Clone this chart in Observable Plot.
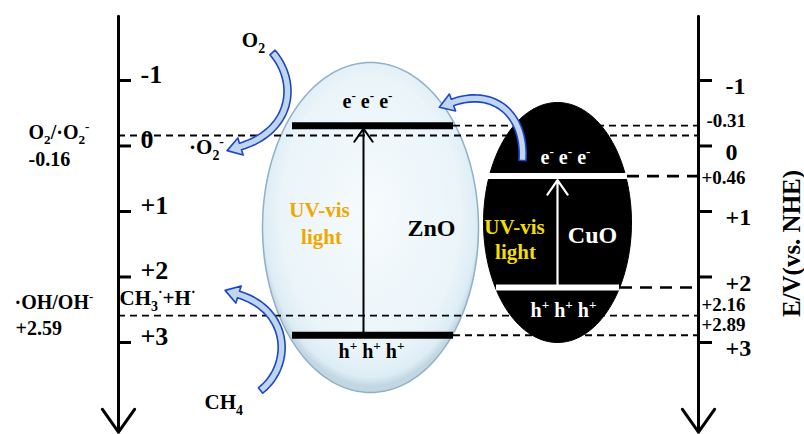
<!DOCTYPE html>
<html>
<head>
<meta charset="utf-8">
<script src="https://cdn.jsdelivr.net/npm/d3@7"></script>
<script src="https://cdn.jsdelivr.net/npm/@observablehq/plot@0.6"></script>
<style>
  html, body { margin: 0; padding: 0; background: #fff; }
  #chart svg { display: block; }
</style>
</head>
<body>
<div id="chart"></div>
<script>
// ---- potential scale (V vs. NHE) ----
const tickValues = [-1, 0, 1, 2, 3];
const tickLabels = ["-1", "0", "+1", "+2", "+3"];

// ---- band edges of the two semiconductors ----
const semiconductors = ["ZnO", "CuO"];
const conductionBand = [-0.31, 0.46];
const valenceBand = [2.89, 2.16];

// ---- redox couples ----
const redoxCouples = ["O_2/·O_2^-", "·OH/OH^-"];
const redoxPotentials = [-0.16, 2.59];

// ---- species taking part in the reactions ----
const species = ["O_2", "·O_2^-", "CH_3^·+H^·", "CH_4"];

const fmt = v => (v > 0 ? "+" : "") + v.toFixed(2);

// ---- drawing frame ----
const W = 804, H = 434;
const yDomain = [-2.221, 4.405];
const pxToV = d3.scaleLinear([0, H], yDomain);
const serif = "'Liberation Serif', 'Times New Roman', serif";
const axisX = [118, 698];
const axisTop = -1.98, axisEnd = 4.37;

// ellipse outlines (pixel layout)
function ellipse(cx, cy, rx, ry) {
  return d3.range(0, 361, 2).map(a => {
    const t = a * Math.PI / 180;
    return {x: cx + rx * Math.cos(t), y: pxToV(cy + ry * Math.sin(t))};
  });
}
const znoOutline = ellipse(370, 227, 108, 165);
const cuoOutline = ellipse(557, 222, 74, 120);

// curved block arrow along a cubic Bézier (pixel layout)
function blockArrow(p0, p1, p2, p3, body = 7, head = 9, headLen = 14) {
  const bez = t => {
    const u = 1 - t;
    return [0, 1].map(k => u*u*u*p0[k] + 3*u*u*t*p1[k] + 3*u*t*t*p2[k] + t*t*t*p3[k]);
  };
  const der = t => {
    const u = 1 - t;
    return [0, 1].map(k => 3*u*u*(p1[k]-p0[k]) + 6*u*t*(p2[k]-p1[k]) + 3*t*t*(p3[k]-p2[k]));
  };
  const left = [], right = [];
  for (let i = 0; i <= 40; i++) {
    const t = i / 40, [x, y] = bez(t), [dx, dy] = der(t), l = Math.hypot(dx, dy);
    const nx = -dy / l, ny = dx / l;
    left.push([x + nx * body / 2, y + ny * body / 2]);
    right.push([x - nx * body / 2, y - ny * body / 2]);
  }
  const [dx, dy] = der(1), l = Math.hypot(dx, dy), tx = dx / l, ty = dy / l, nx = -ty, ny = tx;
  const [ex, ey] = p3;
  const pts = [...left, [ex + nx * head, ey + ny * head], [ex + tx * headLen, ey + ty * headLen],
               [ex - nx * head, ey - ny * head], ...right.reverse(), left[0]];
  return pts.map(([x, y]) => ({x, y: pxToV(y)}));
}
const arrowO2 = blockArrow([272, 52], [298, 82], [292, 130], [240, 146]);
const arrowCH4 = blockArrow([260, 390], [292, 365], [290, 310], [238, 294]);
const arrowTransfer = blockArrow([522, 160], [525, 110], [490, 88], [452, 102]);

// dashed reference levels: short dashes and long dashes
const shortDashed = [
  {v: redoxPotentials[0], x1: axisX[0], x2: axisX[1]},
  {v: redoxPotentials[1], x1: axisX[0], x2: axisX[1]},
  {v: conductionBand[0], x1: 453, x2: axisX[1]},
  {v: valenceBand[0], x1: 453, x2: axisX[1]}
];
const longDashed = [
  {v: conductionBand[1], x1: 627, x2: axisX[1]},
  {v: valenceBand[1], x1: 620, x2: axisX[1]}
];

function txt(str, x, v, o = {}) {
  return Plot.text([str], {
    x: () => x, y: () => v, text: d => d,
    fontFamily: serif, fontWeight: "bold", fontSize: 20, fill: "#000",
    textAnchor: "middle", ...o
  });
}

const arrowStyle = {x: "x", y: "y", fill: "#bfd6ec", stroke: "#1e46c8", strokeWidth: 1.6,
                    strokeLinejoin: "round", curve: "linear"};

const chart = Plot.plot({
  width: W, height: H, margin: 0,
  x: {type: "linear", domain: [0, W], range: [0, W], axis: null},
  y: {type: "linear", domain: yDomain, range: [0, H], axis: null},
  style: {fontFamily: serif, background: "#fff", overflow: "visible"},
  marks: [
    // ZnO particle
    Plot.line(znoOutline, {x: "x", y: "y", fill: "url(#znoFill)", stroke: "#8fb0c6", strokeWidth: 1.5, curve: "linear"}),

    // dashed potential levels
    Plot.ruleY(shortDashed, {y: "v", x1: "x1", x2: "x2", stroke: "#000", strokeWidth: 1.8, strokeDasharray: "7,5"}),
    Plot.ruleY(longDashed, {y: "v", x1: "x1", x2: "x2", stroke: "#000", strokeWidth: 2.6, strokeDasharray: "12,8"}),

    // ZnO excitation arrow and band edges
    Plot.arrow([0], {x1: () => 363, x2: () => 363, y1: () => valenceBand[0], y2: () => conductionBand[0],
      stroke: "#000", strokeWidth: 2, headLength: 12, headAngle: 70, insetEnd: 3}),
    Plot.ruleY([conductionBand[0], valenceBand[0]], {y: d => d, x1: () => 292, x2: () => 453, stroke: "#000", strokeWidth: 7}),

    // CuO particle
    Plot.line(cuoOutline, {x: "x", y: "y", fill: "#000", stroke: "#000", strokeWidth: 1, curve: "linear"}),
    Plot.arrow([0], {x1: () => 557, x2: () => 557, y1: () => valenceBand[1], y2: () => conductionBand[1],
      stroke: "#fff", strokeWidth: 2.2, headLength: 12, headAngle: 70, insetEnd: 4}),
    Plot.ruleY([conductionBand[1]], {y: d => d, x1: () => 488, x2: () => 627, stroke: "#fff", strokeWidth: 6}),
    Plot.ruleY([valenceBand[1]], {y: d => d, x1: () => 496, x2: () => 619, stroke: "#fff", strokeWidth: 6}),

    // potential axes
    Plot.arrow(axisX, {x1: d => d, x2: d => d, y1: () => axisTop, y2: () => axisEnd,
      stroke: "#000", strokeWidth: 3, headLength: 14, headAngle: 70}),
    Plot.ruleY(tickValues, {y: d => d, x1: () => axisX[0], x2: () => axisX[0] + 13, stroke: "#000", strokeWidth: 3}),
    Plot.ruleY(tickValues, {y: d => d, x1: () => axisX[1], x2: () => axisX[1] + 14, stroke: "#000", strokeWidth: 3}),
    Plot.text(tickValues, {x: () => 140, y: d => d, text: (d, i) => tickLabels[i], textAnchor: "start",
      fontFamily: serif, fontWeight: "bold", fontSize: 26, dy: -6}),
    Plot.text(tickValues, {x: () => 725, y: d => d, text: (d, i) => tickLabels[i], textAnchor: "start",
      fontFamily: serif, fontWeight: "bold", fontSize: 24, dy: 6}),
    Plot.text(["E/V(vs. NHE)"], {x: () => 791, y: () => pxToV(243), text: d => d, rotate: -90,
      fontFamily: serif, fontWeight: "bold", fontSize: 25}),

    // band-edge values on the right axis
    txt(fmt(conductionBand[0]), 706, conductionBand[0], {textAnchor: "start", fontSize: 19, dy: -5}),
    txt(fmt(conductionBand[1]), 701, conductionBand[1], {textAnchor: "start", fontSize: 19, dy: 2}),
    txt(fmt(valenceBand[1]), 701, valenceBand[1], {textAnchor: "start", fontSize: 19, dy: 17}),
    txt(fmt(valenceBand[0]), 701, valenceBand[0], {textAnchor: "start", fontSize: 19, dy: -10}),

    // redox couples on the left
    txt(redoxCouples[0], 28, redoxPotentials[0], {textAnchor: "start", dy: -3}),
    txt(fmt(redoxPotentials[0]), 28, redoxPotentials[0], {textAnchor: "start", dy: 24}),
    txt(redoxCouples[1], 14, redoxPotentials[1], {textAnchor: "start", dy: -13}),
    txt(fmt(redoxPotentials[1]), 15, redoxPotentials[1], {textAnchor: "start", dy: 13}),

    // species
    txt(species[0], 253, pxToV(40), {fontSize: 21}),
    txt(species[1], 206, pxToV(147), {fontSize: 21}),
    txt(species[2], 119, pxToV(298), {fontSize: 21, textAnchor: "start"}),
    txt(species[3], 204, pxToV(402), {fontSize: 21, textAnchor: "start"}),

    // ZnO labels
    txt("e^- e^- e^-", 367, pxToV(101), {fontSize: 20}),
    txt("h^+ h^+ h^+", 371, pxToV(351), {fontSize: 20}),
    txt("UV-vis", 319, pxToV(210), {fontSize: 21, fill: "#f0a800"}),
    txt("light", 321, pxToV(237), {fontSize: 21, fill: "#f0a800"}),
    txt(semiconductors[0], 431, pxToV(228), {fontSize: 24}),

    // CuO labels
    txt("e^- e^- e^-", 565, pxToV(157), {fontSize: 20, fill: "#fff"}),
    txt("h^+ h^+ h^+", 563, pxToV(310), {fontSize: 20, fill: "#fff"}),
    txt("UV-vis", 514, pxToV(227), {fontSize: 21, fill: "#f2de00"}),
    txt("light", 515, pxToV(252), {fontSize: 21, fill: "#f2de00"}),
    txt(semiconductors[1], 592, pxToV(235), {fontSize: 24, fill: "#fff"}),

    // reaction / transfer arrows
    Plot.line(arrowO2, arrowStyle),
    Plot.line(arrowCH4, arrowStyle),
    Plot.line(arrowTransfer, arrowStyle)
  ]
});

// radial shading for the ZnO particle
const svgNS = "http://www.w3.org/2000/svg";
const defs = document.createElementNS(svgNS, "defs");
defs.innerHTML = `<radialGradient id="znoFill" cx="50%" cy="46%" r="52%">
  <stop offset="0%" stop-color="#f6fbfd"/>
  <stop offset="80%" stop-color="#eaf4f9"/>
  <stop offset="95%" stop-color="#ddedf5"/>
  <stop offset="100%" stop-color="#c3d7e3"/>
</radialGradient>`;
chart.insertBefore(defs, chart.firstChild);

document.getElementById("chart").appendChild(chart);

// sub- and superscripts: "_x" lowers and "^x" raises the next character
chart.querySelectorAll("text").forEach(el => {
  const s = el.textContent;
  if (!/[_^]/.test(s)) return;
  const F = parseFloat(getComputedStyle(el).fontSize) || 20;
  const segs = [];
  for (let i = 0; i < s.length; i++) {
    let k = "n", c = s[i];
    if ((c === "_" || c === "^") && i + 1 < s.length) { k = c === "_" ? "sub" : "sup"; c = s[++i]; }
    if (segs.length && segs[segs.length - 1].k === k) segs[segs.length - 1].t += c;
    else segs.push({k, t: c});
  }
  el.textContent = "";
  let shift = 0;
  for (const sg of segs) {
    const target = sg.k === "sub" ? 0.28 * F : sg.k === "sup" ? -0.38 * F : 0;
    const ts = document.createElementNS(svgNS, "tspan");
    ts.setAttribute("dy", target - shift);
    if (sg.k !== "n") ts.setAttribute("font-size", 0.66 * F);
    ts.textContent = sg.t;
    el.appendChild(ts);
    shift = target;
  }
});
</script>
</body>
</html>
